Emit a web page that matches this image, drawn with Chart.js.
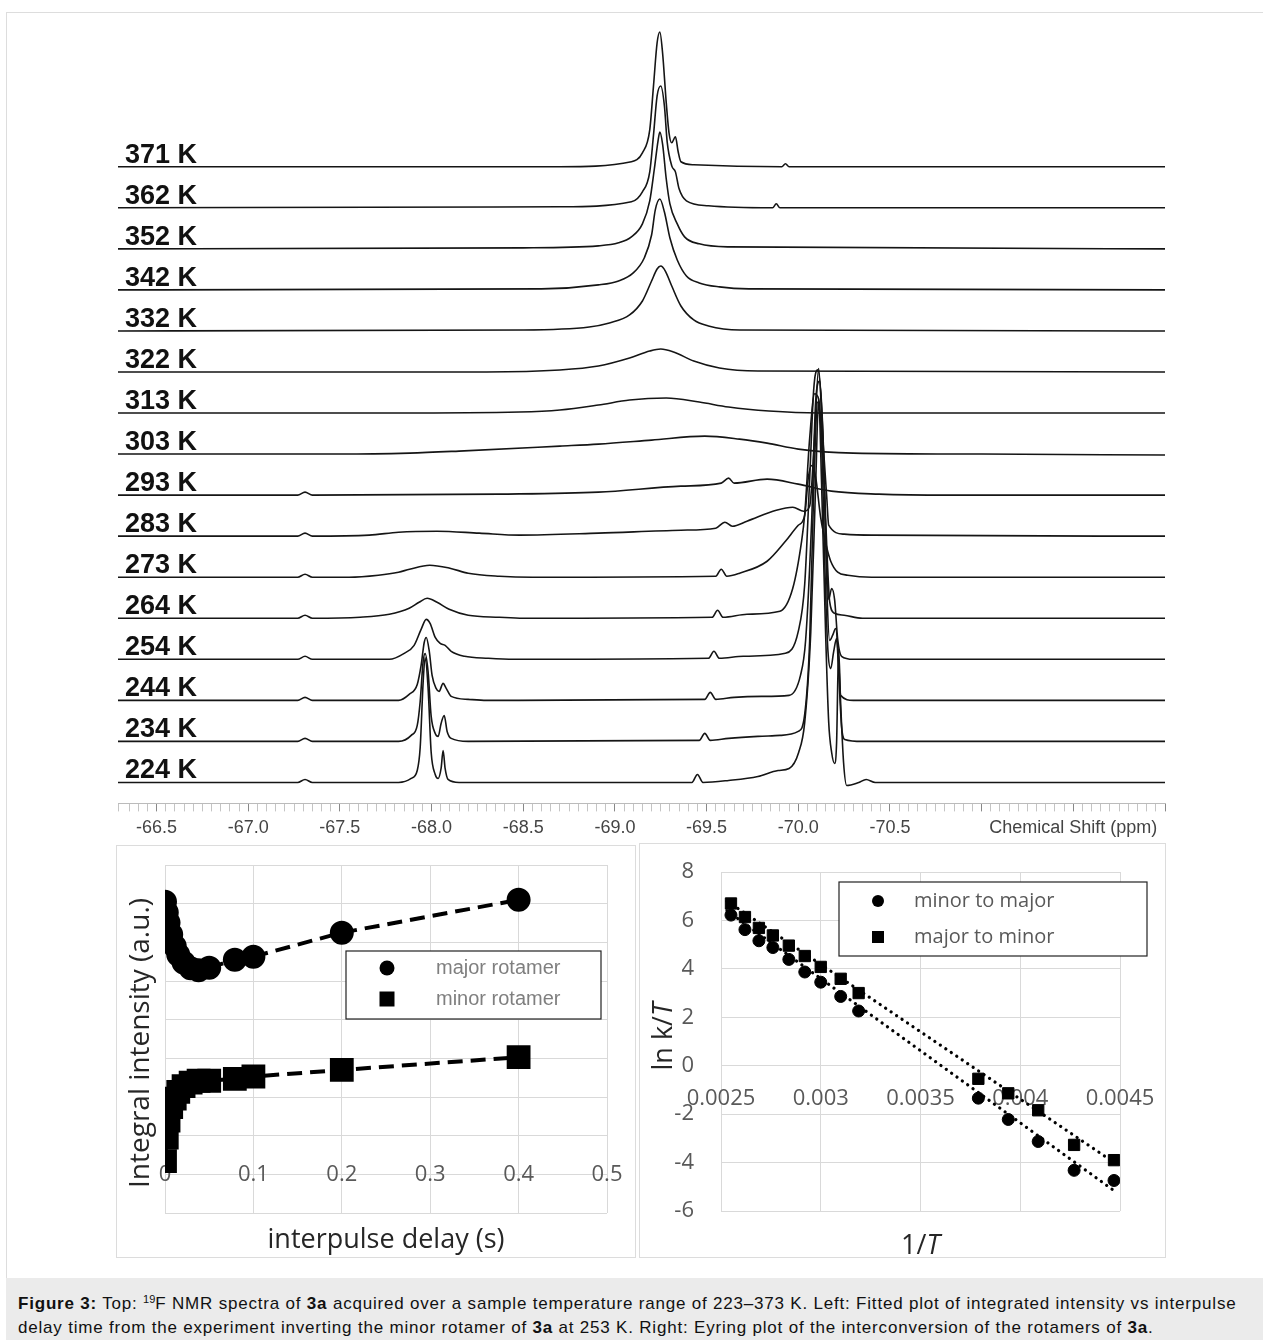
<!DOCTYPE html>
<html>
<head>
<meta charset="utf-8">
<script src="https://cdn.jsdelivr.net/npm/chart.js@4.4.0/dist/chart.umd.min.js"></script>
<style>
  body { margin: 0; background: #fff; width: 1263px; height: 1340px; position: relative; overflow: hidden; font-family: "Liberation Sans", Arial, sans-serif; }
  #frame { position: absolute; left: 6px; top: 12px; width: 1257px; height: 1266px; border-top: 1px solid #ddd; border-left: 1px solid #ddd; box-sizing: border-box; }
  canvas { position: absolute; }
  #nmr { left: 0; top: 0; }
  .panel { position: absolute; border: 1px solid #dcdcdc; box-sizing: border-box; }
  #leftPanel { left: 116px; top: 845px; width: 520px; height: 413px; }
  #rightPanel { left: 639px; top: 843px; width: 527px; height: 415px; }
  #caption { position: absolute; left: 6px; top: 1278px; width: 1257px; height: 62px; background: #ebebeb; font-size: 17px; letter-spacing: 0.8px; line-height: 24px; padding: 14px 0 0 12px; box-sizing: border-box; white-space: nowrap; color: #111; }
  #caption sup { font-size: 11px; line-height: 0; vertical-align: 6px; letter-spacing: 0; }
</style>
</head>
<body>
<div id="frame"></div>
<canvas id="nmr" width="1263" height="845"></canvas>
<div class="panel" id="leftPanel"><canvas id="delayChart" width="518" height="411"></canvas></div>
<div class="panel" id="rightPanel"><canvas id="eyringChart" width="525" height="413"></canvas></div>
<div id="caption"><b>Figure 3:</b> Top: <sup>19</sup>F NMR spectra of <b>3a</b> acquired over a sample temperature range of 223–373 K. Left: Fitted plot of integrated intensity vs interpulse<br>delay time from the experiment inverting the minor rotamer of <b>3a</b> at 253 K. Right: Eyring plot of the interconversion of the rotamers of <b>3a</b>.</div>

<script>
// ---- 19F spectra: [chemical shift (ppm), intensity] ----
const temps = [224, 234, 244, 254, 264, 273, 283, 293, 303, 313, 322, 332, 342, 352, 362, 371];
const STEP = 41.13; // vertical offset between stacked traces

const s224 = [[-66.29,0],[-67.27,0],[-67.31,3],[-67.35,0],[-67.82,0],[-67.889,4],[-67.922,12],[-67.938,35],[-67.954,100],[-67.965,125],[-67.981,95],[-67.998,30],[-68.020,8],[-68.036,4],[-68.052,14],[-68.063,32],[-68.074,14],[-68.090,3],[-68.15,0],
  [-69.42,0],[-69.45,8],[-69.48,0],[-69.62,2],[-69.78,6],[-69.89,12],[-69.95,14],[-70.002,30],[-70.035,60],[-70.068,150],[-70.095,300],[-70.111,384],[-70.127,300],[-70.149,150],[-70.166,60],[-70.182,30],[-70.198,19],[-70.209,40],[-70.220,134],[-70.231,80],[-70.247,20],[-70.264,-3],[-70.33,0],[-70.37,3],[-70.42,0],[-72.0,0]];
const s234 = [[-66.29,0],[-67.27,0],[-67.31,3],[-67.35,0],[-67.82,0],[-67.889,6],[-67.922,16],[-67.938,40],[-67.954,80],[-67.965,88],[-67.981,70],[-67.998,25],[-68.020,8],[-68.036,5],[-68.052,18],[-68.069,26],[-68.085,10],[-68.107,3],[-68.20,0],
  [-69.46,1],[-69.49,8],[-69.52,1],[-69.62,3],[-69.78,5],[-69.90,6],[-70.00,10],[-70.035,27],[-70.062,100],[-70.084,250],[-70.106,340],[-70.127,300],[-70.149,150],[-70.162,90],[-70.177,73],[-70.193,90],[-70.209,103],[-70.220,70],[-70.236,15],[-70.253,2],[-70.35,0],[-72.0,0]];
const s244 = [[-66.29,0],[-67.27,0],[-67.31,3],[-67.35,0],[-67.82,0],[-67.878,6],[-67.922,16],[-67.943,35],[-67.960,58],[-67.971,63],[-67.987,50],[-68.003,25],[-68.025,12],[-68.041,9],[-68.063,17],[-68.080,12],[-68.107,4],[-68.20,1],[-68.30,0],
  [-69.49,1],[-69.52,8],[-69.55,1],[-69.65,3],[-69.80,4],[-69.95,5],[-70.012,25],[-70.040,60],[-70.073,180],[-70.095,300],[-70.117,320],[-70.138,250],[-70.158,100],[-70.171,60],[-70.187,65],[-70.204,72],[-70.220,40],[-70.231,5],[-70.30,0],[-72.0,0]];
const s254 = [[-66.29,0],[-67.27,0],[-67.31,3],[-67.35,0],[-67.77,0],[-67.851,6],[-67.905,14],[-67.943,30],[-67.971,40],[-67.992,36],[-68.020,22],[-68.047,16],[-68.074,14],[-68.107,8],[-68.18,3],[-68.31,1],[-68.45,0],
  [-69.51,1],[-69.54,8],[-69.57,1],[-69.70,3],[-69.93,6],[-70.00,28],[-70.035,75],[-70.062,180],[-70.084,270],[-70.106,290],[-70.133,230],[-70.152,110],[-70.166,60],[-70.182,71],[-70.198,60],[-70.215,20],[-70.236,3],[-70.30,0],[-72.0,0]];
const s264 = [[-66.29,0],[-67.27,0],[-67.31,3],[-67.35,0],[-67.61,1],[-67.77,4],[-67.878,10],[-67.932,16],[-67.976,20],[-68.030,16],[-68.096,9],[-68.20,3],[-68.37,1],[-68.50,0],
  [-69.53,1],[-69.56,8],[-69.59,1],[-69.72,4],[-69.90,7],[-69.97,30],[-70.018,77],[-70.035,104],[-70.062,180],[-70.089,225],[-70.111,220],[-70.138,150],[-70.158,60],[-70.171,17],[-70.198,5],[-70.25,3],[-70.35,0],[-72.0,0]];
const s273 = [[-66.29,0],[-67.27,0],[-67.31,3],[-67.35,0],[-67.55,0],[-67.71,2],[-67.82,5],[-67.88,8],[-67.99,12],[-68.10,9],[-68.20,4],[-68.37,1],[-68.55,0],
  [-69.55,1],[-69.58,8],[-69.61,1],[-69.68,4],[-69.83,16],[-69.93,36],[-70.00,52],[-70.035,62],[-70.055,100],[-70.073,112],[-70.095,100],[-70.122,60],[-70.155,30],[-70.177,16],[-70.215,5],[-70.27,2],[-70.40,0],[-72.0,0]];
const s283 = [[-66.29,0],[-67.27,0],[-67.31,3],[-67.35,0],[-67.66,1],[-67.82,4],[-68.03,5],[-68.26,3],[-68.48,1],[-68.91,3],[-69.36,6],[-69.55,8],[-69.60,14],[-69.64,10],
  [-69.72,15],[-69.88,26],[-69.97,29],[-70.03,25],[-70.062,30],[-70.089,100],[-70.111,168],[-70.133,100],[-70.155,40],[-70.166,11],[-70.25,2],[-70.40,1],[-72.0,0]];
const s293 = [[-66.29,0],[-67.27,0],[-67.31,3],[-67.35,0],[-68.37,1],[-68.91,3],[-69.36,9],[-69.58,12],[-69.62,17],[-69.65,12],[-69.83,16],[-70.00,11],[-70.18,4],[-70.44,1],[-70.82,0],[-72.0,0]];
const s303 = [[-66.29,0],[-67.5,0],[-67.88,1],[-68.15,3],[-68.70,8],[-68.91,10],[-69.20,14],[-69.49,18],[-69.68,15],[-69.83,11],[-70.00,5],[-70.30,1],[-71.0,0],[-72.0,-1]];
const s313 = [[-66.29,0],[-67.8,0],[-68.48,1],[-68.70,3],[-68.91,8],[-69.08,13],[-69.28,15],[-69.46,11],[-69.62,6],[-69.84,2],[-70.11,0],[-72.0,0]];
const s322 = [[-66.29,0],[-68.3,0],[-68.70,2],[-68.91,6],[-69.08,14],[-69.19,21],[-69.25,23],[-69.32,20],[-69.43,11],[-69.57,4],[-69.78,1],[-72.0,0]];
const s332 = [[-66.29,0],[-68.5,1],[-68.86,4],[-68.97,8],[-69.08,16],[-69.15,30],[-69.20,50],[-69.23,62],[-69.25,65],[-69.275,60],[-69.31,45],[-69.36,25],[-69.43,11],[-69.51,5],[-69.68,1],[-72.0,0]];
const s342 = [[-66.29,0],[-68.6,1],[-68.91,5],[-69.02,9],[-69.10,17],[-69.16,32],[-69.20,55],[-69.22,80],[-69.245,91],[-69.27,78],[-69.30,52],[-69.34,30],[-69.39,14],[-69.46,7],[-69.57,3],[-69.73,1],[-72.0,0]];
const s352 = [[-66.29,0],[-68.5,1],[-68.91,3],[-69.02,6],[-69.09,12],[-69.15,25],[-69.19,48],[-69.215,80],[-69.235,108],[-69.245,117],[-69.26,105],[-69.28,70],[-69.30,45],[-69.34,25],[-69.38,12],[-69.46,5],[-69.62,2],[-72.0,0]];
const s362 = [[-66.29,0],[-68.7,1],[-69.09,6],[-69.15,16],[-69.19,36],[-69.21,72],[-69.23,112],[-69.25,122],[-69.27,102],[-69.285,66],[-69.31,42],[-69.33,36],[-69.35,19],[-69.39,7],[-69.51,2],[-69.86,0],[-69.88,4],[-69.90,0],[-72.0,0]];
const s371 = [[-66.29,0],[-68.7,0],[-69.09,5],[-69.15,14],[-69.19,37],[-69.21,80],[-69.23,124],[-69.245,135],[-69.26,114],[-69.28,64],[-69.295,34],[-69.31,24],[-69.33,30],[-69.345,15],[-69.36,5],[-69.43,2],[-69.91,0],[-69.93,3],[-69.95,0],[-72.0,0]];
const spectra = [s224, s234, s244, s254, s264, s273, s283, s293, s303, s313, s322, s332, s342, s352, s362, s371];

// ---- inversion-transfer data (left) ----
const delay = [0, 0.002, 0.004, 0.007, 0.011, 0.015, 0.021, 0.029, 0.038, 0.05, 0.079, 0.1, 0.2, 0.4];
const majorInt = [7.05, 6.77, 6.51, 6.2, 5.9, 5.68, 5.48, 5.33, 5.28, 5.34, 5.55, 5.63, 6.25, 7.10];
const minorInt = [0.34, 0.95, 1.39, 1.74, 1.96, 2.13, 2.28, 2.37, 2.42, 2.42, 2.47, 2.53, 2.70, 3.03];

// ---- Eyring plot (right) ----
const invT = [0.00255, 0.00262, 0.00269, 0.00276, 0.00284, 0.00292, 0.00300, 0.00310, 0.00319, 0.00379, 0.00394, 0.00409, 0.00427, 0.00447];
const minorToMajor = [6.22, 5.62, 5.16, 4.88, 4.39, 3.87, 3.45, 2.86, 2.26, -1.34, -2.22, -3.13, -4.32, -4.74];
const majorToMinor = [6.70, 6.14, 5.69, 5.38, 4.96, 4.53, 4.08, 3.59, 3.00, -0.54, -1.14, -1.84, -3.27, -3.90];
const fitMinorToMajor = [[0.00253, 6.40], [0.00448, -5.22]];
const fitMajorToMinor = [[0.00253, 6.80], [0.00448, -4.05]];

const pts = (xs, ys) => xs.map((x, i) => ({ x, y: ys[i] }));

// temperature labels on the stacked spectra
const tempLabels = {
  id: 'tempLabels',
  afterDatasetsDraw(chart) {
    const { ctx, scales: { y } } = chart;
    ctx.save();
    ctx.font = 'bold 27px "Liberation Sans", Arial, sans-serif';
    ctx.fillStyle = '#111';
    temps.forEach((t, i) => ctx.fillText(t + ' K', 125, y.getPixelForValue(i * STEP) - 4));
    ctx.restore();
  }
};

function isHalf(v) {
  const r = Math.round(v * 100) / 100;
  return Math.abs(r * 2 - Math.round(r * 2)) < 1e-6;
}

new Chart(document.getElementById('nmr'), {
  type: 'line',
  data: {
    datasets: spectra.map((s, i) => ({
      data: s.map(([x, h]) => ({ x, y: h + i * STEP })),
      borderColor: '#151515',
      borderWidth: 1.6,
      pointRadius: 0,
      cubicInterpolationMode: 'monotone',
      fill: false
    }))
  },
  options: {
    responsive: false,
    animation: false,
    events: [],
    layout: { padding: { left: 118, right: 98, top: 20, bottom: 0 } },
    plugins: { legend: { display: false }, tooltip: { enabled: false } },
    scales: {
      x: {
        type: 'linear',
        reverse: true,
        min: -72.0,
        max: -66.29,
        border: { display: true, color: '#bbb' },
        grid: {
          drawOnChartArea: false,
          tickLength: 8,
          color: c => (c.tick && isHalf(c.tick.value)) ? '#888' : '#c4c4c4'
        },
        ticks: {
          stepSize: 0.05,
          autoSkip: false,
          maxRotation: 0,
          padding: 6,
          color: '#444',
          font: { family: '"Liberation Sans", Arial, sans-serif', size: 18 },
          callback: v => {
            if (!isHalf(v)) return '';
            const r = Math.round(v * 10) / 10;
            if (Math.abs(r + 71.5) < 1e-6) return 'Chemical Shift (ppm)';
            if (r <= -71) return '';
            return r.toFixed(1);
          }
        }
      },
      y: { display: false, min: -21, max: 764 }
    }
  },
  plugins: [tempLabels]
});

// text helpers for the lower charts
function drawRich(ctx, parts, x, y, rotate) {
  ctx.save();
  ctx.translate(x, y);
  if (rotate) ctx.rotate(-Math.PI / 2);
  let w = 0;
  parts.forEach(p => { ctx.font = p.font; w += ctx.measureText(p.text).width; });
  let cx = -w / 2;
  ctx.textBaseline = 'middle';
  ctx.fillStyle = '#262626';
  parts.forEach(p => { ctx.font = p.font; ctx.fillText(p.text, cx, 0); cx += ctx.measureText(p.text).width; });
  ctx.restore();
}

function drawMarker(ctx, style, x, y, size) {
  ctx.fillStyle = '#000';
  ctx.beginPath();
  if (style === 'circle') ctx.arc(x, y, size / 2, 0, Math.PI * 2);
  else ctx.rect(x - size / 2, y - size / 2, size, size);
  ctx.fill();
}

function boxLegend(cfg) {
  return {
    id: 'boxLegend',
    afterDraw(chart) {
      const ctx = chart.ctx;
      ctx.save();
      ctx.fillStyle = '#fff';
      ctx.fillRect(cfg.x, cfg.y, cfg.w, cfg.h);
      ctx.strokeStyle = '#222';
      ctx.lineWidth = 1.2;
      ctx.strokeRect(cfg.x, cfg.y, cfg.w, cfg.h);
      cfg.rows.forEach((row, i) => {
        const ds = chart.data.datasets[i];
        drawMarker(ctx, ds.pointStyle, cfg.markX, row, cfg.mark[i]);
        ctx.font = cfg.font;
        ctx.fillStyle = cfg.color;
        ctx.textBaseline = 'middle';
        ctx.fillText(ds.label, cfg.textX, row);
      });
      ctx.restore();
    }
  };
}

const gridGray = '#d9d9d9';
const tickFont = { family: '"Open Sans", sans-serif', size: 22 };

// ---- left: integral intensity vs interpulse delay ----
new Chart(document.getElementById('delayChart'), {
  type: 'scatter',
  data: {
    datasets: [
      { label: 'major rotamer', data: pts(delay, majorInt), pointStyle: 'circle', pointRadius: 10,
        backgroundColor: '#000', borderColor: '#000', showLine: true, borderWidth: 4, borderDash: [15, 8] },
      { label: 'minor rotamer', data: pts(delay, minorInt), pointStyle: 'rect', pointRadius: 14,
        backgroundColor: '#000', borderColor: '#000', showLine: true, borderWidth: 4, borderDash: [15, 8] }
    ]
  },
  options: {
    responsive: false,
    animation: false,
    events: [],
    layout: { padding: { left: 48, right: 28, top: 19, bottom: 44 } },
    plugins: { legend: { display: false }, tooltip: { enabled: false } },
    scales: {
      x: {
        type: 'linear', min: 0, max: 0.5,
        position: { y: 0 },
        border: { color: gridGray },
        grid: { color: gridGray, drawTicks: false },
        ticks: { stepSize: 0.1, padding: -13, color: '#595959', font: tickFont,
          callback: v => String(Math.round(v * 10) / 10) }
      },
      y: {
        min: -1, max: 8,
        border: { display: false },
        grid: { color: gridGray, drawTicks: false },
        ticks: { stepSize: 1, display: false },
        afterFit: s => { s.width = 0; }
      }
    }
  },
  plugins: [
    boxLegend({ x: 229, y: 105, w: 255, h: 68, markX: 270, textX: 319, rows: [122, 153], mark: [15, 15],
      font: '20px "Liberation Sans", Arial, sans-serif', color: '#7f7f7f' }),
    {
      id: 'titlesLeft',
      afterDraw(chart) {
        const a = chart.chartArea, ctx = chart.ctx;
        drawRich(ctx, [{ text: 'Integral intensity (a.u.)', font: '28px "Open Sans", sans-serif' }], a.left - 24, (a.top + a.bottom) / 2 + 4, true);
        drawRich(ctx, [{ text: 'interpulse delay (s)', font: '27px "Open Sans", sans-serif' }], (a.left + a.right) / 2, a.bottom + 27, false);
      }
    }
  ]
});

// ---- right: Eyring plot ----
new Chart(document.getElementById('eyringChart'), {
  type: 'scatter',
  data: {
    datasets: [
      { label: 'minor to major', data: pts(invT, minorToMajor), pointStyle: 'circle', pointRadius: 6,
        backgroundColor: '#000', borderColor: '#000' },
      { label: 'major to minor', data: pts(invT, majorToMinor), pointStyle: 'rect', pointRadius: 8,
        backgroundColor: '#000', borderColor: '#000' },
      { label: 'fit1', data: fitMinorToMajor.map(([x, y]) => ({ x, y })), showLine: true, pointRadius: 0,
        borderColor: '#000', borderWidth: 3.2, borderDash: [0.1, 6.5], borderCapStyle: 'round' },
      { label: 'fit2', data: fitMajorToMinor.map(([x, y]) => ({ x, y })), showLine: true, pointRadius: 0,
        borderColor: '#000', borderWidth: 3.2, borderDash: [0.1, 6.5], borderCapStyle: 'round' }
    ]
  },
  options: {
    responsive: false,
    animation: false,
    events: [],
    layout: { padding: { left: 30, right: 45, top: 28, bottom: 46 } },
    plugins: { legend: { display: false }, tooltip: { enabled: false } },
    scales: {
      x: {
        type: 'linear', min: 0.0025, max: 0.0045,
        position: { y: 0 },
        border: { color: gridGray },
        grid: { color: gridGray, drawTicks: false },
        ticks: { stepSize: 0.0005, padding: 20, color: '#595959', font: tickFont,
          callback: v => String(Number(v.toFixed(4))) },
        afterFit: s => { s.paddingLeft = 0; s.paddingRight = 0; }
      },
      y: {
        position: 'left',
        min: -6, max: 8,
        border: { display: false },
        grid: { color: gridGray, drawTicks: false },
        ticks: { stepSize: 2, padding: 27, color: '#595959', font: tickFont },
        afterFit: s => { s.width = 51; s.paddingTop = 0; s.paddingBottom = 0; }
      }
    }
  },
  plugins: [
    boxLegend({ x: 199, y: 38, w: 308, h: 74, markX: 238, textX: 274, rows: [57, 93], mark: [12, 12],
      font: '20px "Open Sans", sans-serif', color: '#595959' }),
    {
      id: 'titlesRight',
      afterDraw(chart) {
        const a = chart.chartArea, ctx = chart.ctx;
        drawRich(ctx, [{ text: 'ln k/', font: '27px "Open Sans", sans-serif' }, { text: 'T', font: 'italic 27px "Open Sans", sans-serif' }],
          a.left - 57, (a.top + a.bottom) / 2 - 5, true);
        drawRich(ctx, [{ text: '1/', font: '27px "Open Sans", sans-serif' }, { text: 'T', font: 'italic 27px "Open Sans", sans-serif' }],
          (a.left + a.right) / 2, a.bottom + 35, false);
      }
    }
  ]
});
</script>
</body>
</html>
